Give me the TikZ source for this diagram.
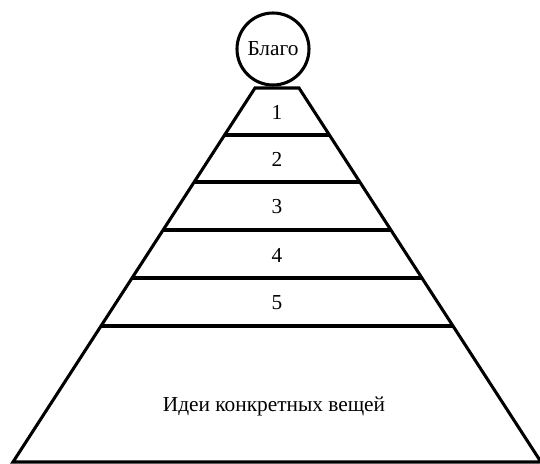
\documentclass[tikz,border=0pt]{standalone}
\usepackage{fontspec}
\setmainfont{Liberation Serif}
\usetikzlibrary{positioning, calc}

\begin{document}
\begin{tikzpicture}[x=0.75pt, y=-0.75pt, font=\fontsize{16}{18}\selectfont,
    edge/.style={line width=2.3pt},
    level/.style={inner sep=0pt}]
  \useasboundingbox (0,0) rectangle (540,464);
  % corners of the pyramid
  \coordinate (tl) at (255,88);
  \coordinate (tr) at (299,88);
  \coordinate (bl) at (13,462);
  \coordinate (br) at (541,462);
  \draw[edge] (tl) -- (tr) -- (br) -- (bl) -- cycle;
  % steps
  \foreach \y in {135,182,230,278,326}
    \draw[edge] ($(tl)!{(\y-88)/374}!(bl)$) -- ($(tr)!{(\y-88)/374}!(br)$);
  \node[level] (s1) at (277,112) {1};
  \node[level] (s2) at (277,159) {2};
  \node[level] (s3) at (277,207) {3};
  \node[level] (s4) at (277,255) {4};
  \node[level] (s5) at (277,303) {5};
  \node[level] (ideas) at (274,406) {Идеи конкретных вещей};
  % top
  \node[edge, draw, circle, fill=white, inner sep=0pt, minimum size=54pt]
    (blago) at (273,49) {Благо};
\end{tikzpicture}
\end{document}
